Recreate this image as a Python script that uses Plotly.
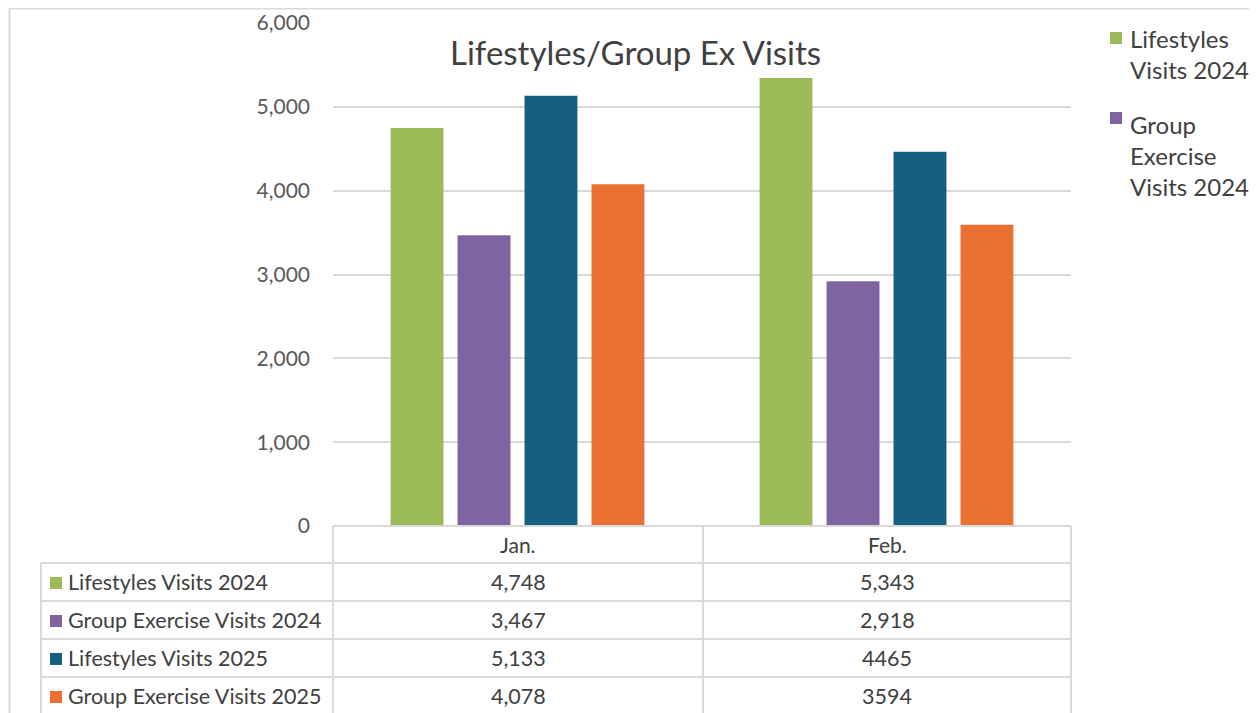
import plotly.graph_objects as go

categories = ["Jan.", "Feb."]
series_names = ["Lifestyles Visits 2024", "Group Exercise Visits 2024",
                "Lifestyles Visits 2025", "Group Exercise Visits 2025"]
legend_names = ["Lifestyles<br>Visits 2024", "Group<br>Exercise<br>Visits 2024"]
lifestyles_2024 = [4748, 5343]
group_ex_2024 = [3467, 2918]
lifestyles_2025 = [5133, 4465]
group_ex_2025 = [4078, 3594]
table_labels = [["4,748", "5,343"], ["3,467", "2,918"], ["5,133", "4465"], ["4,078", "3594"]]
y_ticks = [0, 1000, 2000, 3000, 4000, 5000, 6000]
colors = ["#9BBB59", "#8064A2", "#15607F", "#EA7131"]

values = [lifestyles_2024, group_ex_2024, lifestyles_2025, group_ex_2025]

# page offset of the browser (body margin)
OFF = 8
VW, VH = 1257, 713
W, H = VW - OFF, VH - OFF
L, R, T, B = 333, 1071, 23, 526   # plot area in viewport pixels
FONT = "Lato"
TXT = "#404040"
GRID = "#D9D9D9"

def px(x):
    return (x - L) / (R - L)

def py(y):
    return (B - y) / (B - T)

fig = go.Figure()
for name, vals, c in zip(series_names, values, colors):
    fig.add_trace(go.Bar(x=categories, y=vals, name=name, marker=dict(color=c, line=dict(width=0)),
                         showlegend=False))

shapes = []
annotations = []

# outer chart border
shapes.append(dict(type="line", xref="paper", yref="paper", x0=px(9), x1=px(VW + 5), y0=py(8.5), y1=py(8.5),
                   line=dict(color=GRID, width=2)))
shapes.append(dict(type="line", xref="paper", yref="paper", x0=px(9.5), x1=px(9.5), y0=py(8), y1=py(VH + 5),
                   line=dict(color=GRID, width=2)))

# data table
row_h = 38
header_top = B
rows_top = B + 37
tbl_left = 41
col_div = 703
lw = 2
shapes.append(dict(type="line", xref="paper", yref="paper", x0=px(L), x1=px(R), y0=py(header_top), y1=py(header_top),
                   line=dict(color=GRID, width=lw)))
for i in range(len(series_names) + 1):
    yy = rows_top + i * row_h
    shapes.append(dict(type="line", xref="paper", yref="paper", x0=px(tbl_left), x1=px(R), y0=py(yy), y1=py(yy),
                       line=dict(color=GRID, width=lw)))
shapes.append(dict(type="line", xref="paper", yref="paper", x0=px(tbl_left), x1=px(tbl_left),
                   y0=py(rows_top), y1=py(VH + 40), line=dict(color=GRID, width=lw)))
for xx in [L, col_div, R]:
    shapes.append(dict(type="line", xref="paper", yref="paper", x0=px(xx), x1=px(xx),
                       y0=py(header_top), y1=py(VH + 40), line=dict(color=GRID, width=lw)))

col_centers = [(L + col_div) / 2, (col_div + R) / 2]
for j, cat in enumerate(categories):
    annotations.append(dict(xref="paper", yref="paper", x=px(col_centers[j]), y=py(header_top + 18),
                            text=cat, showarrow=False, xanchor="center", yanchor="middle",
                            font=dict(family=FONT, size=21, color=TXT)))
for i, name in enumerate(series_names):
    yc = rows_top + i * row_h + row_h / 2
    shapes.append(dict(type="rect", xref="paper", yref="paper", x0=px(50), x1=px(62), y0=py(yc - 5), y1=py(yc + 7),
                       fillcolor=colors[i], line=dict(width=0)))
    annotations.append(dict(xref="paper", yref="paper", x=px(66), y=py(yc), text=name, showarrow=False,
                            xanchor="left", yanchor="middle", font=dict(family=FONT, size=21.5, color=TXT)))
    for j in range(len(categories)):
        annotations.append(dict(xref="paper", yref="paper", x=px(col_centers[j]), y=py(yc),
                                text=table_labels[i][j], showarrow=False, xanchor="center", yanchor="middle",
                                font=dict(family=FONT, size=21.5, color=TXT)))

# legend (right side, first two entries visible)
leg_tops = [22, 108]
sq_tops = [32, 112]
for k, lname in enumerate(legend_names):
    shapes.append(dict(type="rect", xref="paper", yref="paper", x0=px(1110), x1=px(1122),
                       y0=py(sq_tops[k] + 12), y1=py(sq_tops[k]), fillcolor=colors[k], line=dict(width=0)))
    annotations.append(dict(xref="paper", yref="paper", x=px(1128), y=py(leg_tops[k]), text=lname, showarrow=False,
                            xanchor="left", yanchor="top", align="left",
                            font=dict(family=FONT, size=24, color=TXT)))

# title
annotations.append(dict(xref="paper", yref="paper", x=px(635), y=py(52), text="Lifestyles/Group Ex Visits",
                        showarrow=False, xanchor="center", yanchor="middle",
                        font=dict(family=FONT, size=33, color=TXT)))

fig.update_layout(
    width=W, height=H,
    margin=dict(l=L - OFF, r=VW - R, t=T - OFF, b=VH - B, pad=0, autoexpand=False),
    paper_bgcolor="white", plot_bgcolor="white",
    barmode="group", bargap=0.274, bargroupgap=0.21,
    showlegend=False,
    shapes=shapes, annotations=annotations,
    font=dict(family=FONT, color=TXT),
)
fig.update_xaxes(showticklabels=False, showline=False, showgrid=False, zeroline=False, ticks="", automargin=False)
fig.update_yaxes(range=[0, 6000], tickvals=y_ticks, tickformat=",", showgrid=True, gridcolor=GRID, gridwidth=1.5,
                 zeroline=False, showline=False, ticks="", ticklabelstandoff=22, automargin=False,
                 tickfont=dict(family=FONT, size=21, color="#595959"))

fig.write_html("out.html")
